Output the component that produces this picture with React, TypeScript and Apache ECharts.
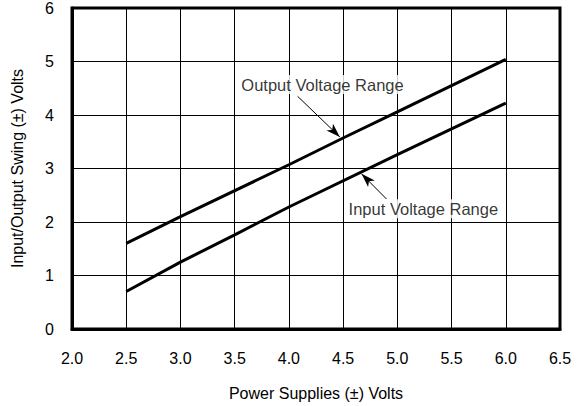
import React, { useEffect, useRef } from "react";
import * as echarts from "echarts";

const xTicks = { min: 2.0, max: 6.5, interval: 0.5 };
const yTicks = { min: 0, max: 6, interval: 1 };

const outputX = [2.5, 3.0, 4.0, 4.5, 5.0, 6.0];
const outputY = [1.6, 2.1, 3.07, 3.57, 4.06, 5.04];
const inputX = [2.5, 3.0, 3.5, 4.0, 5.0, 6.0];
const inputY = [0.7, 1.25, 1.76, 2.28, 3.26, 4.22];

const xAxisName = "Power Supplies (±) Volts";
const yAxisName = "Input/Output Swing (±) Volts";

// annotation anchors in data coordinates
const outLabel = { text: "Output Voltage Range", at: [4.31, 4.57] };
const outArrow = { from: [4.08, 4.35], to: [4.47, 3.59] };
const inLabel = { text: "Input Voltage Range", at: [5.24, 2.25] };
const inArrow = { from: [4.9, 2.43], to: [4.67, 2.9] };

const FONT = "Liberation Sans, Arial, sans-serif";

export default function App() {
  const ref = useRef<HTMLDivElement>(null);
  useEffect(() => {
    document.body.style.margin = "0";
    const chart = echarts.init(ref.current!, null, { renderer: "svg" });
    const arrowLine = (a: { from: number[]; to: number[] }) => [
      { coord: a.from, symbol: "none" },
      { coord: a.to, symbol: "arrow", symbolSize: [7, 14] },
    ];
    chart.setOption({
      animation: false,
      backgroundColor: "#fff",
      textStyle: { fontFamily: FONT },
      grid: {
        left: 72,
        right: 21,
        top: 8,
        bottom: 67,
        show: true,
        borderColor: "#000",
        borderWidth: 3,
        backgroundColor: "transparent",
      },
      xAxis: {
        type: "value",
        min: xTicks.min,
        max: xTicks.max,
        interval: xTicks.interval,
        name: xAxisName,
        nameLocation: "middle",
        nameGap: 56,
        nameTextStyle: { color: "#000", fontSize: 16, fontFamily: FONT },
        axisLine: { show: true, lineStyle: { color: "#000", width: 3 } },
        axisTick: { show: false },
        axisLabel: {
          color: "#000",
          fontSize: 16,
          fontFamily: FONT,
          margin: 21,
          formatter: (v: number) => v.toFixed(1),
        },
        splitLine: { show: true, lineStyle: { color: "#000", width: 1 } },
      },
      yAxis: {
        type: "value",
        min: yTicks.min,
        max: yTicks.max,
        interval: yTicks.interval,
        name: yAxisName,
        nameLocation: "middle",
        nameGap: 47,
        nameTextStyle: { color: "#000", fontSize: 16, fontFamily: FONT },
        axisLine: { show: true, lineStyle: { color: "#000", width: 3 } },
        axisTick: { show: false },
        axisLabel: { color: "#000", fontSize: 16, fontFamily: FONT, margin: 18 },
        splitLine: { show: true, lineStyle: { color: "#000", width: 1 } },
      },
      series: [
        {
          name: "Output Voltage Range",
          type: "line",
          data: outputX.map((x, i) => [x, outputY[i]]),
          showSymbol: false,
          lineStyle: { color: "#000", width: 3 },
          markLine: {
            silent: true,
            symbol: ["none", "arrow"],
            lineStyle: { color: "#000", width: 1, type: "solid" },
            label: { show: false },
            data: [arrowLine(outArrow)],
          },
        },
        {
          name: "Input Voltage Range",
          type: "line",
          data: inputX.map((x, i) => [x, inputY[i]]),
          showSymbol: false,
          lineStyle: { color: "#000", width: 3 },
          markLine: {
            silent: true,
            symbol: ["none", "arrow"],
            lineStyle: { color: "#000", width: 1, type: "solid" },
            label: { show: false },
            data: [arrowLine(inArrow)],
          },
        },
        {
          type: "scatter",
          symbolSize: 0,
          silent: true,
          data: [
            { value: outLabel.at, name: outLabel.text },
            { value: inLabel.at, name: inLabel.text },
          ],
          label: {
            show: true,
            position: "inside",
            formatter: (p: any) => p.name,
            color: "#000",
            fontSize: 16.5,
            fontFamily: FONT,
            backgroundColor: "#fff",
            padding: [1, 2],
          },
        },
      ],
    });
    return () => chart.dispose();
  }, []);
  return <div ref={ref} style={{ width: 581, height: 406 }} />;
}
